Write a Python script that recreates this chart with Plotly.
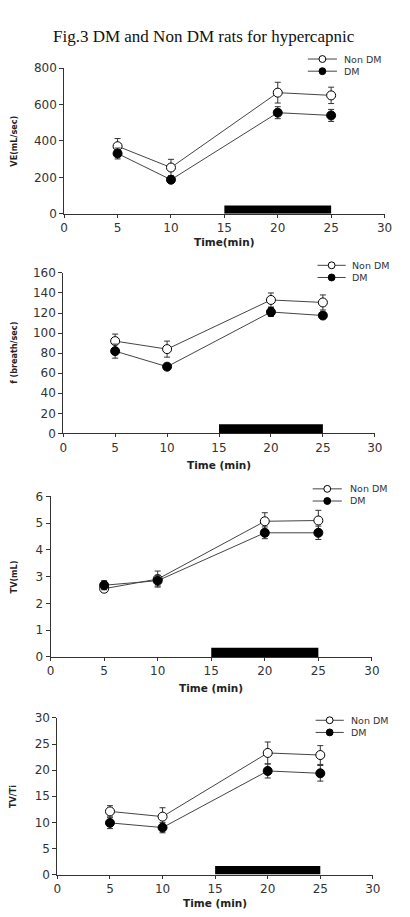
import plotly.graph_objects as go

# ---------------- data ----------------
time = [5, 10, 20, 25]

ve_non = [371, 254, 665, 650]
ve_non_err = [42, 45, 57, 45]
ve_dm = [331, 187, 555, 540]
ve_dm_err = [30, 15, 33, 33]

f_non = [92, 84, 133, 130.5]
f_non_err = [7, 8, 7, 7.5]
f_dm = [82, 66.5, 121, 117.5]
f_dm_err = [7, 2, 4.5, 3]

tv_non = [2.55, 2.91, 5.07, 5.1]
tv_non_err = [0.12, 0.3, 0.32, 0.38]
tv_dm = [2.68, 2.85, 4.64, 4.64]
tv_dm_err = [0.17, 0.2, 0.22, 0.25]

tvti_non = [12.1, 11.1, 23.3, 22.9]
tvti_non_err = [1.1, 1.7, 2.1, 1.8]
tvti_dm = [9.9, 9.0, 19.85, 19.4]
tvti_dm_err = [1.1, 1.0, 1.35, 1.5]

stim_start = 15
stim_end = 25
stim_height = [45, 9, 0.34, 1.66]

y_titles = ["VE(mL/sec)", "f (breath/sec)", "TV(mL)", "TV/Ti"]
x_titles = ["Time(min)", "Time (min)", "Time (min)", "Time (min)"]
y_ranges = [(0, 800, 200), (0, 160, 20), (0, 6, 1), (0, 30, 5)]
series = [
    (ve_non, ve_non_err, ve_dm, ve_dm_err),
    (f_non, f_non_err, f_dm, f_dm_err),
    (tv_non, tv_non_err, tv_dm, tv_dm_err),
    (tvti_non, tvti_non_err, tvti_dm, tvti_dm_err),
]
legend_names = ["Non DM", "DM"]
title_text = "Fig.3 DM and Non DM rats for hypercapnic"

# ---------------- layout (pixels) ----------------
W, H = 410, 917
px_x = [(62, 392), (61, 382), (48, 379), (55, 380)]      # x axis pixel extents
px_y = [(62, 210), (270, 433), (497, 660), (722, 881)]   # y axis pixel extents (top, bottom)
xt_y = [239, 465, 692, 910]                              # x title centre y
leg = [  # (line x0, line x1, text x, y centre of the two legend rows)
    (313, 343, 349, 59),
    (323, 352, 357, 268.5),
    (318, 348, 355, 495.5),
    (321, 350, 356, 730.5),
]
LEG_FONT = 9.5
LEG_STEP = LEG_FONT * 1.3

def fx(p):
    return p / W

def fy(p):
    return 1 - p / H

AX = "#333333"
tickfont = dict(family="DejaVu Sans", size=12, color="#333333")

fig = go.Figure()
shapes = []
annotations = []

for i in range(4):
    n = "" if i == 0 else str(i + 1)
    xa, ya = "x" + n, "y" + n
    non, non_e, dm, dm_e = series[i]
    fig.add_trace(go.Scatter(
        x=time, y=non, xaxis=xa, yaxis=ya, mode="lines+markers", showlegend=False,
        name=legend_names[0],
        line=dict(color="#444444", width=1),
        marker=dict(symbol="circle", size=9, color="white", line=dict(color="black", width=1)),
        error_y=dict(type="data", array=non_e, color="#333333", thickness=1, width=3),
    ))
    fig.add_trace(go.Scatter(
        x=time, y=dm, xaxis=xa, yaxis=ya, mode="lines+markers", showlegend=False,
        name=legend_names[1],
        line=dict(color="#444444", width=1),
        marker=dict(symbol="circle", size=9, color="black", line=dict(color="black", width=1)),
        error_y=dict(type="data", array=dm_e, color="#333333", thickness=1, width=3),
    ))
    y0, y1, dt = y_ranges[i]
    xd = [fx(px_x[i][0]), fx(px_x[i][1])]
    yd = [fy(px_y[i][1]), fy(px_y[i][0])]
    fig.update_layout(**{
        "xaxis" + n: dict(domain=xd, anchor=ya, range=[0, 30], tick0=0, dtick=5,
                          showline=True, linecolor=AX, linewidth=1, ticks="outside",
                          ticklen=3, tickcolor=AX, showgrid=False, zeroline=False,
                          tickfont=tickfont),
        "yaxis" + n: dict(domain=yd, anchor=xa, range=[y0, y1], tick0=0, dtick=dt,
                          showline=True, linecolor=AX, linewidth=1, ticks="outside",
                          ticklen=4, tickcolor=AX, showgrid=False, zeroline=False,
                          tickfont=tickfont),
    })
    # stimulus bar
    shapes.append(dict(type="rect", xref=xa, yref=ya, x0=stim_start, x1=stim_end,
                       y0=0, y1=stim_height[i], fillcolor="black",
                       line=dict(color="black", width=0), layer="above"))
    # axis titles
    annotations.append(dict(text="<b>" + y_titles[i] + "</b>", textangle=-90,
                            xref="paper", yref="paper", x=fx(10),
                            y=fy((px_y[i][0] + px_y[i][1]) / 2),
                            showarrow=False, xanchor="center", yanchor="middle",
                            font=dict(family="Liberation Sans Narrow, DejaVu Sans Condensed, Liberation Sans",
                                      size=9, color="#222222")))
    annotations.append(dict(text="<b>" + x_titles[i] + "</b>",
                            xref="paper", yref="paper",
                            x=fx((px_x[i][0] + px_x[i][1]) / 2), y=fy(xt_y[i]),
                            showarrow=False, xanchor="center", yanchor="middle",
                            borderpad=0,
                            font=dict(family="DejaVu Sans", size=10.5, color="#222222")))
    # legend (drawn manually)
    lx0, lx1, tx, yc = leg[i]
    rows = [(yc - LEG_STEP / 2, "white"), (yc + LEG_STEP / 2, "black")]
    for yy, fill in rows:
        shapes.append(dict(type="line", xref="paper", yref="paper",
                           x0=fx(lx0), x1=fx(lx1), y0=fy(yy), y1=fy(yy),
                           line=dict(color="#444444", width=1)))
        cx = (lx0 + lx1) / 2
        r = 3.5
        shapes.append(dict(type="circle", xref="paper", yref="paper",
                           x0=fx(cx - r), x1=fx(cx + r), y0=fy(yy + r), y1=fy(yy - r),
                           fillcolor=fill, line=dict(color="black", width=1)))
    annotations.append(dict(text="<br>".join(legend_names), xref="paper", yref="paper",
                            x=fx(tx), y=fy(yc), xanchor="left", yanchor="middle",
                            align="left", showarrow=False, borderpad=0,
                            font=dict(family="DejaVu Sans", size=LEG_FONT, color="#333333")))

annotations.append(dict(text=title_text, xref="paper", yref="paper",
                        x=fx(206), y=fy(30), xanchor="center", yanchor="middle",
                        showarrow=False,
                        font=dict(family="Liberation Serif", size=17, color="#111111")))

fig.update_layout(width=W, height=H, margin=dict(l=0, r=0, t=0, b=0),
                  paper_bgcolor="white", plot_bgcolor="white",
                  shapes=shapes, annotations=annotations, showlegend=False)

fig.write_html("out.html")
